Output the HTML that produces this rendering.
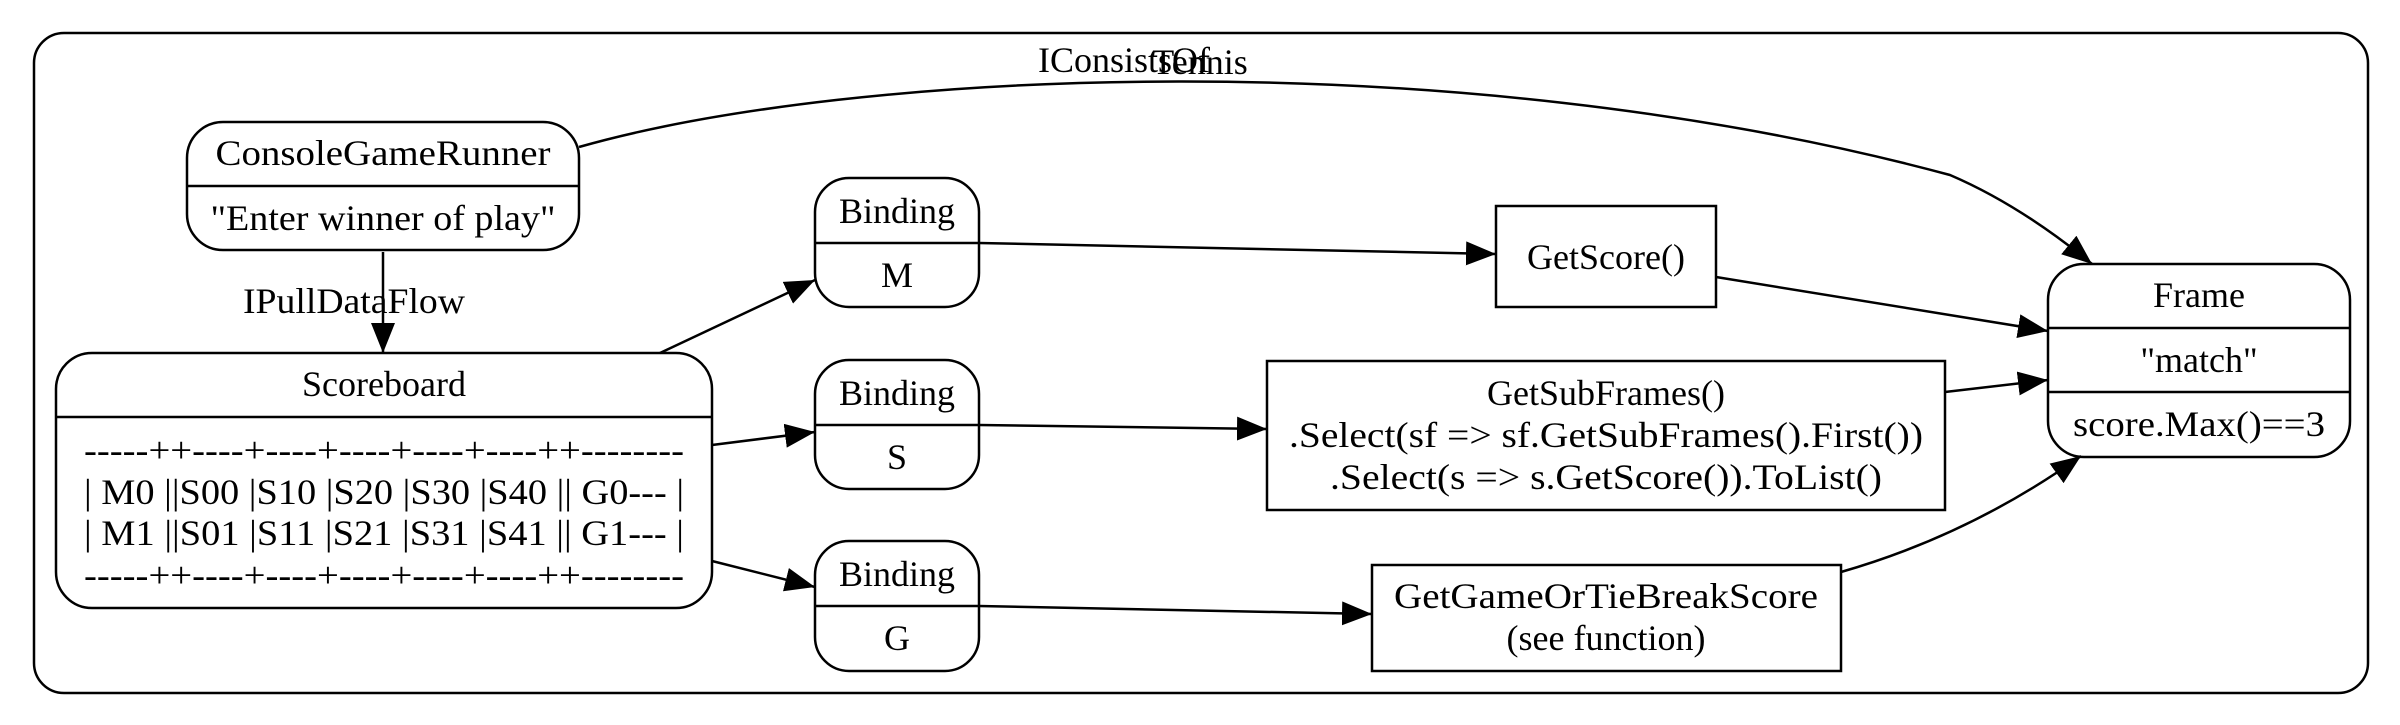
<!DOCTYPE html>
<html><head><meta charset="utf-8"><style>html,body{margin:0;padding:0;background:#fff}svg{display:block}</style></head>
<body>
<svg width="2400" height="725" viewBox="0 0 2400 725" xmlns="http://www.w3.org/2000/svg" font-family="'Liberation Serif', serif" font-size="36" fill="none" stroke="#000" stroke-width="2.5">
<defs>
<marker id="a" markerUnits="userSpaceOnUse" markerWidth="32" markerHeight="24" refX="30" refY="12" orient="auto">
<path d="M0,0 L30,12 L0,24 Z" fill="#000" stroke="none"/>
</marker>
</defs>
<rect x="34" y="33" width="2334" height="660" rx="30" fill="#fff"/>
<!-- nodes -->
<rect x="187" y="122" width="392" height="128" rx="36"/>
<line x1="187" y1="186" x2="579" y2="186"/>
<rect x="56" y="353" width="656" height="255" rx="36"/>
<line x1="56" y1="417" x2="712" y2="417"/>
<rect x="815" y="178" width="164" height="129" rx="34"/>
<line x1="815" y1="243" x2="979" y2="243"/>
<rect x="815" y="360" width="164" height="129" rx="34"/>
<line x1="815" y1="425" x2="979" y2="425"/>
<rect x="815" y="541" width="164" height="130" rx="34"/>
<line x1="815" y1="606" x2="979" y2="606"/>
<rect x="1496" y="206" width="220" height="101"/>
<rect x="1267" y="361" width="678" height="149"/>
<rect x="1372" y="565" width="469" height="106"/>
<rect x="2048" y="264" width="302" height="193" rx="36"/>
<line x1="2048" y1="328" x2="2350" y2="328"/>
<line x1="2048" y1="392" x2="2350" y2="392"/>
<!-- edges -->
<path d="M579,147 C850,70 1450,40 1950,175 Q2020,205 2092,264" marker-end="url(#a)"/>
<path d="M383,252 L383,353" marker-end="url(#a)"/>
<path d="M660,353 L815,280" marker-end="url(#a)"/>
<path d="M712,445 L815,432" marker-end="url(#a)"/>
<path d="M712,561 L815,587" marker-end="url(#a)"/>
<path d="M979,243 L1496,254" marker-end="url(#a)"/>
<path d="M979,425 L1267,429" marker-end="url(#a)"/>
<path d="M979,606 L1372,614" marker-end="url(#a)"/>
<path d="M1716,277 L2048,331" marker-end="url(#a)"/>
<path d="M1945,392 L2048,380" marker-end="url(#a)"/>
<path d="M1841,572 Q1970,535 2081,456" marker-end="url(#a)"/>
<!-- text -->
<g fill="#000" stroke="none" text-anchor="middle">
<text x="1124" y="72">IConsistsOf</text>
<text x="1200" y="74">Tennis</text>
<text x="383" y="165" textLength="335" lengthAdjust="spacingAndGlyphs">ConsoleGameRunner</text>
<text x="383" y="230" textLength="345" lengthAdjust="spacingAndGlyphs">"Enter winner of play"</text>
<text x="354" y="313" textLength="222" lengthAdjust="spacingAndGlyphs">IPullDataFlow</text>
<text x="384" y="396">Scoreboard</text>
<text x="384" y="462" textLength="600" lengthAdjust="spacingAndGlyphs">-----++----+----+----+----+----++--------</text>
<text x="384" y="504" textLength="600" lengthAdjust="spacingAndGlyphs">| M0 ||S00 |S10 |S20 |S30 |S40 || G0--- |</text>
<text x="384" y="545" textLength="600" lengthAdjust="spacingAndGlyphs">| M1 ||S01 |S11 |S21 |S31 |S41 || G1--- |</text>
<text x="384" y="587" textLength="600" lengthAdjust="spacingAndGlyphs">-----++----+----+----+----+----++--------</text>
<text x="897" y="223">Binding</text>
<text x="897" y="287">M</text>
<text x="897" y="405">Binding</text>
<text x="897" y="469">S</text>
<text x="897" y="586">Binding</text>
<text x="897" y="650">G</text>
<text x="1606" y="269">GetScore()</text>
<text x="1606" y="405">GetSubFrames()</text>
<text x="1606" y="447" textLength="634" lengthAdjust="spacingAndGlyphs">.Select(sf =&gt; sf.GetSubFrames().First())</text>
<text x="1606" y="489" textLength="552" lengthAdjust="spacingAndGlyphs">.Select(s =&gt; s.GetScore()).ToList()</text>
<text x="1606" y="608" textLength="424" lengthAdjust="spacingAndGlyphs">GetGameOrTieBreakScore</text>
<text x="1606" y="650">(see function)</text>
<text x="2199" y="307">Frame</text>
<text x="2199" y="372">"match"</text>
<text x="2199" y="436" textLength="252" lengthAdjust="spacingAndGlyphs">score.Max()==3</text>
</g>
</svg>
</body></html>
